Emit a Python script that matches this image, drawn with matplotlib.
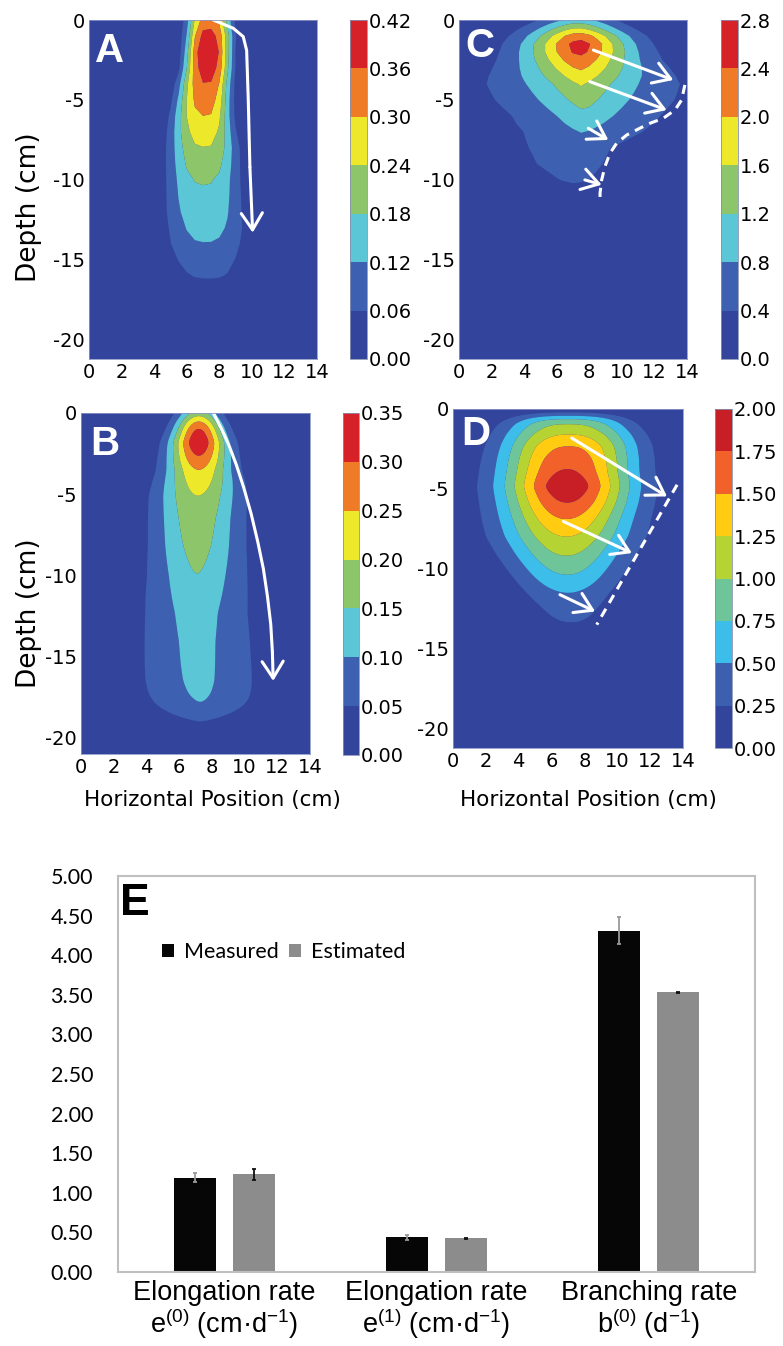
import numpy as np
import matplotlib
matplotlib.use("Agg")
import matplotlib.pyplot as plt
from matplotlib.colors import ListedColormap, BoundaryNorm
from matplotlib.patches import Patch

plt.rcParams['font.family'] = ['DejaVu Sans']
plt.rcParams['mathtext.fontset'] = 'custom'
plt.rcParams['mathtext.rm'] = 'Liberation Sans'
plt.rcParams['mathtext.it'] = 'Liberation Sans:italic'
plt.rcParams['mathtext.bf'] = 'Liberation Sans:bold'
plt.rcParams['axes.unicode_minus'] = False

# ------------------------------------------------------------------ data
X_TICKS = [0, 2, 4, 6, 8, 10, 12, 14]
Y_TICKS = [0, -5, -10, -15, -20]
Y_TICK_LABELS = ['0', '-5', '-10', '-15', '-20']

# Panel A: per-depth profile (peak value, centre, left/right width)
A_LEVELS = [0.00, 0.06, 0.12, 0.18, 0.24, 0.30, 0.36, 0.42]
A_Z    = [0, -1, -2, -3, -4, -5, -6, -7, -8, -10, -12, -13, -14, -15, -16, -17, -18, -21.2]
A_PEAK = [0.33, 0.385, 0.415, 0.395, 0.358, 0.33, 0.30, 0.268, 0.238, 0.185, 0.155, 0.137,
          0.118, 0.093, 0.066, 0.03, 0.0, 0.0]
A_CEN  = [7.3, 7.3, 7.25, 7.25, 7.2, 7.2, 7.15, 7.1, 7.1, 7.05, 7.1, 7.15, 7.15, 7.2, 7.3, 7.3, 7.3, 7.3]
A_WL   = [1.2, 1.25, 1.25, 1.35, 1.55, 1.75, 1.9, 2.0, 2.1, 2.2, 2.35, 2.4, 2.4, 2.3, 2.2, 2.0, 2.0, 2.0]
A_WR   = [1.35, 1.4, 1.4, 1.4, 1.4, 1.4, 1.5, 1.7, 1.9, 2.13, 2.3, 2.4, 2.4, 2.3, 2.2, 2.0, 2.0, 2.0]
A_EXP  = 3.0

# Panel B
B_LEVELS = [0.00, 0.05, 0.10, 0.15, 0.20, 0.25, 0.30, 0.35]
B_Z    = [0, -0.25, -0.5, -1, -1.8, -2.6, -3.5, -4.2, -5.1, -6.5, -8.2, -10, -12.3, -14, -15.5,
          -16.5, -17.3, -17.9, -18.5, -19.0, -19.6, -21.2]
B_PEAK = [0.17, 0.21, 0.255, 0.31, 0.348, 0.305, 0.25, 0.225, 0.20, 0.18, 0.165, 0.15, 0.134,
          0.129, 0.127, 0.123, 0.114, 0.10, 0.075, 0.05, 0.025, 0.0]
B_CEN  = [7.2, 7.2, 7.2, 7.2, 7.2, 7.2, 7.2, 7.2, 7.15, 7.1, 7.1, 7.1, 7.05, 7.1, 7.15, 7.2,
          7.25, 7.3, 7.3, 7.3, 7.3, 7.3]
B_W    = [1.3, 1.35, 1.4, 1.5, 1.7, 1.85, 2.05, 2.3, 2.55, 2.65, 2.75, 2.9, 3.15, 3.35, 3.45, 3.55,
          3.65, 3.75, 3.85, 3.85, 3.85, 3.85]
B_EXP  = [2, 2, 2, 2, 2, 2, 2, 2, 2, 2, 2, 1.75, 1.4, 1.25, 1.2, 1.2, 1.2, 1.2, 1.2, 1.2,
          1.2, 1.2]

# Panel C
C_LEVELS = [0.0, 0.4, 0.8, 1.2, 1.6, 2.0, 2.4, 2.8]
C_Z    = [0, -0.5, -0.75, -1.25, -1.7, -2.1, -2.5, -3.1, -4, -5, -6, -7, -8, -9, -10, -10.5,
          -11, -21.2]
C_PEAK = [0.95, 1.6, 2.05, 2.45, 2.66, 2.45, 2.28, 2.02, 1.64, 1.38, 1.1, 0.82, 0.66, 0.6, 0.48,
          0.3, 0.0, 0.0]
C_CEN  = [7.3, 7.3, 7.35, 7.4, 7.4, 7.4, 7.4, 7.45, 7.5, 7.6, 7.7, 7.6, 6.8, 6.8, 7.1, 7.1,
          7.1, 7.1]
C_WL   = [2.6, 2.9, 3.05, 3.2, 3.35, 3.45, 3.6, 3.9, 4.4, 4.5, 4.4, 4.8, 4.45, 4.25, 3.7, 3.5,
          3.5, 3.5]
C_WR   = [2.5, 2.8, 2.95, 3.1, 3.2, 3.4, 3.6, 4.0, 4.6, 4.7, 4.6, 4.8, 4.45, 4.25, 3.7, 3.5,
          3.5, 3.5]
C_EXP  = [1.7, 1.7, 1.7, 1.7, 1.7, 1.65, 1.6, 1.45, 1.25, 1.2, 1.2, 1.2, 1.2, 1.2, 1.2, 1.2,
          1.2, 1.2]

# Panel D
D_LEVELS = [0.00, 0.25, 0.50, 0.75, 1.00, 1.25, 1.50, 1.75, 2.00]
D_Z    = [0, -0.2, -0.4, -0.6, -0.9, -1.6, -2.3, -3.1, -3.9, -4.85, -5.8, -6.9, -8.0, -9.2,
          -10.4, -11.5, -12.4, -13.4, -14.2, -15, -21.2]
D_PEAK = [0.05, 0.2, 0.45, 0.75, 1.0, 1.25, 1.5, 1.65, 1.77, 1.95, 1.77, 1.5, 1.25, 1.0, 0.75,
          0.5, 0.37, 0.25, 0.1, 0.0, 0.0]
D_CEN  = [7.0, 7.0, 7.0, 7.0, 7.0, 7.05, 7.05, 7.0, 6.95, 6.95, 6.95, 6.9, 6.9, 6.9, 6.95, 7.0,
          7.1, 7.2, 7.3, 7.3, 7.3]
D_W    = [3.2, 3.3, 3.4, 3.5, 3.7, 3.95, 4.0, 4.0, 3.95, 3.9, 3.9, 3.9, 3.9, 3.6, 3.25, 3.0,
          2.7, 2.5, 2.4, 2.4, 2.4]
D_EXP  = [2.6, 2.6, 2.6, 2.6, 2.5, 2.5, 2.4, 2.3, 2.2, 2.1, 2.1, 2.1, 2.1, 2.1, 2.1, 2.1, 2.1,
          2.1, 2.1, 2.1, 2.1]

# white annotation paths (cm)
A_ARROW_X = [7.63, 8.86, 9.47, 9.68, 9.78, 9.88, 10.05]
A_ARROW_Z = [0.0, -0.52, -1.04, -1.9, -5.0, -9.2, -13.3]
B_ARROW_X = [8.09, 8.6, 9.05, 9.5, 9.95, 10.4, 10.8, 11.15, 11.4, 11.6, 11.7, 11.75]
B_ARROW_Z = [0.0, -1.0, -2.0, -3.2, -4.6, -6.2, -7.9, -9.6, -11.3, -13.0, -14.7, -16.5]
C_ARROWS = [(8.25, -1.88, 13.16, -3.75), (8.03, -3.85, 12.75, -5.63),
            (7.94, -6.77, 9.17, -7.5), (7.73, -10.0, 8.76, -10.3)]
C_DASH_X = [13.87, 13.67, 13.26, 12.54, 11.72, 11.1, 10.3, 9.68, 9.27, 8.96, 8.76, 8.66, 8.66]
C_DASH_Z = [-4.06, -5.0, -5.63, -6.15, -6.46, -6.77, -7.19, -7.71, -8.33, -9.17, -10.0, -10.83, -11.25]
D_ARROWS = [(7.23, -1.82, 13.03, -5.48), (6.72, -7.05, 10.89, -9.03), (6.51, -11.64, 8.65, -12.69)]
D_DASH_X = [13.64, 8.75]
D_DASH_Z = [-4.75, -13.52]

# Panel E: bar chart
BAR_CATEGORIES = ['Elongation rate\ne$^{\\mathrm{(0)}}$ (cm·d$^{\\mathrm{-1}}$)',
                  'Elongation rate\ne$^{\\mathrm{(1)}}$ (cm·d$^{\\mathrm{-1}}$)',
                  'Branching rate\nb$^{\\mathrm{(0)}}$ (d$^{\\mathrm{-1}}$)']
MEASURED = [1.19, 0.44, 4.31]
MEASURED_ERR = [0.057, 0.03, 0.17]
ESTIMATED = [1.235, 0.425, 3.53]
ESTIMATED_ERR = [0.07, 0.01, 0.01]
E_YTICKS = [0.0, 0.5, 1.0, 1.5, 2.0, 2.5, 3.0, 3.5, 4.0, 4.5, 5.0]

# ------------------------------------------------------------------ styles
DARK = '#33449C'
COLS7 = [DARK, '#3D61B0', '#5BC7D6', '#8DC66A', '#EEE82A', '#F07B26', '#D62129']
COLS8 = [DARK, '#3D5FAF', '#3CBDEA', '#6FC59A', '#B5D333', '#FFCC12', '#F2612A', '#C81E25']

W, H = 783, 1346
fig = plt.figure(figsize=(W / 100, H / 100), dpi=100)


def add_ax(x0, y0, x1, y1):
    return fig.add_axes([x0 / W, 1 - y1 / H, (x1 - x0) / W, (y1 - y0) / H])


def interp_nodes(zq, zn, v):
    zn = np.asarray(zn, float)
    v = np.asarray(v, float)
    o = np.argsort(zn)
    return np.interp(zq, zn[o], v[o])


def build_field(xs, zs, zn, peak, cen, wl, wr, ex):
    P = interp_nodes(zs, zn, peak)[:, None]
    C = interp_nodes(zs, zn, cen)[:, None]
    WL = interp_nodes(zs, zn, wl)[:, None]
    WR = interp_nodes(zs, zn, wr)[:, None]
    EX = interp_nodes(zs, zn, ex)[:, None] if np.ndim(ex) else ex
    u = xs[None, :] - C
    w = np.where(u < 0, WL, WR)
    return P * np.exp(-(np.abs(u) / w) ** EX)


def blur(F, s):
    n = int(3 * s)
    k = np.exp(-0.5 * (np.arange(-n, n + 1) / s) ** 2)
    k /= k.sum()
    Fp = np.pad(F, n, mode='edge')
    Fp = np.apply_along_axis(lambda r: np.convolve(r, k, mode='valid'), 1, Fp)
    Fp = np.apply_along_axis(lambda r: np.convolve(r, k, mode='valid'), 0, Fp)
    return Fp


def contour_panel(rect, cbrect, xs, zs, F, levels, cols, ybot, fmt, letter, lxy):
    ax = add_ax(*rect)
    ax.set_facecolor(cols[0])
    cmap = ListedColormap(cols)
    norm = BoundaryNorm(levels, cmap.N)
    F = np.clip(F, levels[0] + 1e-9, levels[-1] - 1e-9)
    cs = ax.contourf(xs, zs, F, levels=levels, cmap=cmap, norm=norm, antialiased=True)
    ax.set_xlim(0, 14)
    ax.set_ylim(ybot, 0)
    ax.set_xticks(X_TICKS)
    ax.set_xticklabels([str(t) for t in X_TICKS])
    ax.set_yticks(Y_TICKS)
    ax.set_yticklabels(Y_TICK_LABELS)
    ax.tick_params(length=0, labelsize=14, pad=3)
    for s in ax.spines.values():
        s.set_color('#8c96c8')
        s.set_linewidth(0.6)
    ax.text(lxy[0], lxy[1], letter, transform=ax.transAxes, color='white', fontsize=29,
            fontweight='bold', family='Liberation Sans', ha='left', va='baseline')
    cax = add_ax(*cbrect)
    cb = fig.colorbar(cs, cax=cax, ticks=levels)
    cb.ax.set_yticklabels([fmt % l for l in levels])
    cb.ax.tick_params(length=0, pad=1, labelsize=14)
    cb.outline.set_linewidth(0.6)
    cb.outline.set_edgecolor('#8890b0')
    return ax


def white_arrow(ax, x0, z0, x1, z1):
    ax.annotate('', xy=(x1, z1), xytext=(x0, z0),
                arrowprops=dict(arrowstyle='->,head_length=0.6,head_width=0.38', color='white',
                                lw=2.2, shrinkA=0, shrinkB=0, mutation_scale=20),
                annotation_clip=False)


# ---------------- Panel A (coarse grid)
xa = np.arange(0, 14.01, 0.5)
za = np.append(np.arange(0, -21.5, -1.0), -21.2)
FA = build_field(xa, za, A_Z, A_PEAK, A_CEN, A_WL, A_WR, A_EXP)
axA = contour_panel((89, 20, 317, 359), (350, 20, 367, 359), xa, za, FA, A_LEVELS, COLS7,
                    -21.2, '%.2f', 'A', (0.026, 0.876))
axA.plot(A_ARROW_X[:-1], A_ARROW_Z[:-1], color='white', lw=2.2, solid_capstyle='round')
white_arrow(axA, A_ARROW_X[-2], A_ARROW_Z[-2], A_ARROW_X[-1], A_ARROW_Z[-1])

# ---------------- Panel C (coarse grid)
xc = np.arange(0, 14.01, 0.5)
zc = np.append(np.arange(0, -21.1, -0.5), -21.2)
FC = build_field(xc, zc, C_Z, C_PEAK, C_CEN, C_WL, C_WR, C_EXP)
axC = contour_panel((459, 20, 687, 359), (721, 20, 738, 359), xc, zc, FC, C_LEVELS, COLS7,
                    -21.2, '%.1f', 'C', (0.026, 0.89))
for a in C_ARROWS:
    white_arrow(axC, *a)
axC.plot(C_DASH_X, C_DASH_Z, color='white', lw=2.2, ls=(0, (3, 2.2)), clip_on=False)

# ---------------- Panel B (smooth)
xb = np.linspace(0, 14, 141)
zb = np.linspace(0, -21.0, 211)
FB = blur(build_field(xb, zb, B_Z, B_PEAK, B_CEN, B_W, B_W, B_EXP), 1.8)
axB = contour_panel((81, 413, 310, 754), (343, 413, 359, 755), xb, zb, FB, B_LEVELS, COLS7,
                    -21.0, '%.2f', 'B', (0.039, 0.877))
axB.plot(B_ARROW_X[:-1], B_ARROW_Z[:-1], color='white', lw=2.2, solid_capstyle='round')
white_arrow(axB, B_ARROW_X[-2], B_ARROW_Z[-2], B_ARROW_X[-1], B_ARROW_Z[-1])

# ---------------- Panel D (smooth)
xd = np.linspace(0, 14, 141)
zd = np.linspace(0, -21.25, 213)
FD = blur(build_field(xd, zd, D_Z, D_PEAK, D_CEN, D_W, D_W, D_EXP), 1.5)
axD = contour_panel((453, 409, 683, 748), (715, 409, 732, 748), xd, zd, FD, D_LEVELS, COLS8,
                    -21.25, '%.2f', 'D', (0.037, 0.895))
for a in D_ARROWS:
    white_arrow(axD, *a)
axD.plot(D_DASH_X, D_DASH_Z, color='white', lw=2.2, ls=(0, (3, 2.2)))

# axis titles
for yc in (207, 613):
    fig.text(29 / W, 1 - yc / H, 'Depth (cm)', rotation=90, ha='center', va='center', fontsize=19)
for xc_ in (212, 588):
    fig.text(xc_ / W, 1 - 800 / H, 'Horizontal Position (cm)', ha='center', va='center',
             fontsize=15.5)

# ---------------- Panel E
axE = add_ax(118, 876, 755, 1272)
xe = np.arange(len(BAR_CATEGORIES))
off, bw = 0.139, 0.197
axE.bar(xe - off, MEASURED, bw, color='#060606', yerr=MEASURED_ERR,
        error_kw=dict(ecolor='#9a9a9a', elinewidth=1.3, capsize=1.5, capthick=1.3))
axE.bar(xe + off, ESTIMATED, bw, color='#8C8C8C', yerr=ESTIMATED_ERR,
        error_kw=dict(ecolor='#111111', elinewidth=1.3, capsize=1.5, capthick=1.3))
axE.set_xlim(-0.5, 2.5)
axE.set_ylim(0, 5)
axE.set_yticks(E_YTICKS)
axE.set_yticklabels(['%.2f' % v for v in E_YTICKS], fontfamily='Lato', fontsize=15.5)
axE.tick_params(axis='y', length=0, pad=18)
axE.set_xticks(xe)
axE.set_xticklabels(BAR_CATEGORIES, fontfamily='Liberation Sans', fontsize=19.5, linespacing=1.0)
axE.tick_params(axis='x', length=0, pad=6)
for s in axE.spines.values():
    s.set_color('#BFBFBF')
    s.set_linewidth(1.5)
axE.text(0.003, 0.9015, 'E', transform=axE.transAxes, fontsize=32, fontweight='bold',
         family='Liberation Sans', ha='left', va='baseline')
handles = [Patch(facecolor='#060606'), Patch(facecolor='#8C8C8C')]
axE.legend(handles, ['Measured', 'Estimated'], loc='center left',
           bbox_to_anchor=((162 - 118) / 637, (1272 - 952) / 396), ncol=2, frameon=False,
           handlelength=0.55, handleheight=0.55, handletextpad=0.45, columnspacing=0.5,
           borderpad=0, borderaxespad=0, prop={'family': 'Lato', 'size': 15.5})

fig.savefig('out.png', dpi=100)
